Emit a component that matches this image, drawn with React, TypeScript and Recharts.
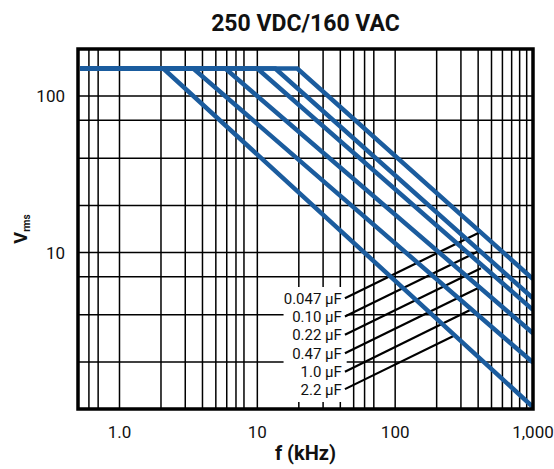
import { CartesianGrid, Line, LineChart, ReferenceArea, XAxis, YAxis } from "recharts";

// axes
const freqTicks = [1, 10, 100, 1000];
const freqTickLabels = ["1.0", "10", "100", "1,000"];
const voltTicks = [10, 100];
const freqGrid = [
  0.6, 0.7, 0.8, 0.9, 1, 2, 3, 4, 5, 6, 7, 8, 9, 10, 20, 30, 40, 50, 60, 70, 80, 90, 100, 200,
  300, 400, 500, 600, 700, 800, 900,
];
const voltGrid = [2, 3, 4, 5, 6, 7, 8, 9, 10, 20, 30, 40, 50, 60, 70, 80, 90, 100];

// curves, one per capacitance (top to bottom)
const capLabels = ["0.047 µF", "0.10 µF", "0.22 µF", "0.47 µF", "1.0 µF", "2.2 µF"];
const flatVolts = 150;
const startFreq = 0.52;
const endFreq = 1000;
const kneeFreqs = [19.5, 13.5, 10, 5.86, 3.43, 2.08];
const endVolts = [6.78, 5.1, 4.3, 3.05, 1.98, 1.03];

// leader lines from the labels to the curves
const leaderStartFreq = 43.2;
const leaderStartVolts = [5.11, 3.9, 2.98, 2.27, 1.73, 1.34];
const leaderEndFreqs = [412, 412, 419, 397, 350, 265];
const leaderEndVolts = [13.5, 10.3, 7.94, 5.92, 4.3, 2.93];

const BLUE = "#1b5c9e";
const FONT = "Roboto, 'Noto Sans', sans-serif";

const curves = capLabels.map((name, i) => ({
  name,
  data: [
    { f: startFreq, v: flatVolts },
    { f: kneeFreqs[i], v: flatVolts },
    { f: endFreq, v: endVolts[i] },
  ],
}));

const leaders = capLabels.map((name, i) => ({
  name,
  data: [
    { f: leaderStartFreq, v: leaderStartVolts[i] },
    { f: leaderEndFreqs[i], v: leaderEndVolts[i] },
  ],
}));

export default function App() {
  return (
    <div style={{ position: "absolute", left: 0, top: 0, width: 554, height: 469, background: "#fff" }}>
      <div
        style={{
          position: "absolute",
          left: 0,
          top: 12,
          width: 611,
          textAlign: "center",
          fontFamily: FONT,
          fontWeight: 700,
          fontSize: 23,
          lineHeight: "23px",
          color: "#111",
        }}
      >
        250 VDC/160 VAC
      </div>
      <LineChart width={554} height={469} margin={{ top: 49, right: 21, bottom: 0, left: 18 }}>
        <CartesianGrid
          stroke="#000"
          strokeWidth={1.5}
          horizontalValues={voltGrid}
          verticalValues={freqGrid}
        />
        <XAxis
          type="number"
          dataKey="f"
          scale="log"
          domain={[0.5, 1000]}
          allowDataOverflow
          ticks={freqTicks}
          tickFormatter={(v) => freqTickLabels[freqTicks.indexOf(v)] ?? ""}
          axisLine={false}
          tickLine={false}
          tickSize={0}
          tickMargin={17}
          height={60}
          tick={{ fontFamily: FONT, fontSize: 17, fill: "#111" }}
          label={{
            content: (props: any) => {
              const vb = props.viewBox;
              return (
                <text
                  x={vb.x + vb.width / 2}
                  y={vb.y + 51}
                  textAnchor="middle"
                  fontFamily={FONT}
                  fontWeight={700}
                  fontSize={20}
                  fill="#111"
                >
                  f (kHz)
                </text>
              );
            },
          }}
        />
        <YAxis
          type="number"
          dataKey="v"
          scale="log"
          domain={[1, 200]}
          allowDataOverflow
          ticks={voltTicks}
          axisLine={false}
          tickLine={false}
          tickSize={0}
          tickMargin={13}
          width={60}
          tick={{ fontFamily: FONT, fontSize: 17, fill: "#111" }}
          label={{
            content: () => (
              <text
                x={26.5}
                y={229}
                textAnchor="middle"
                transform="rotate(-90, 26.5, 229)"
                fontFamily={FONT}
                fontWeight={700}
                fill="#111"
              >
                <tspan fontSize={18}>V</tspan>
                <tspan fontSize={10} dy={3}>
                  rms
                </tspan>
              </text>
            ),
          }}
        />
        <ReferenceArea
          x1={15.5}
          x2={44.5}
          y1={1.11}
          y2={6.03}
          fill="#fff"
          fillOpacity={1}
          stroke="none"
        />
        {leaders.map((l) => (
          <Line
            key={"leader-" + l.name}
            data={l.data}
            dataKey="v"
            stroke="#000"
            strokeWidth={2.2}
            dot={false}
            activeDot={false}
            isAnimationActive={false}
            label={(p: any) =>
              p.index === 0 ? (
                <text
                  key={"lab-" + l.name}
                  x={p.x - 3}
                  y={p.y}
                  dy="0.36em"
                  textAnchor="end"
                  fontFamily={FONT}
                  fontSize={15}
                  fill="#111"
                >
                  {l.name}
                </text>
              ) : (
                <g key={"lab2-" + l.name} />
              )
            }
          />
        ))}
        {curves.map((c) => (
          <Line
            key={c.name}
            data={c.data}
            dataKey="v"
            stroke={BLUE}
            strokeWidth={4.5}
            dot={false}
            activeDot={false}
            isAnimationActive={false}
          />
        ))}
        <ReferenceArea
          x1={0.5}
          x2={1000}
          y1={1}
          y2={200}
          fill="none"
          stroke="#000"
          strokeWidth={3.5}
          zIndex={1500}
        />
      </LineChart>
    </div>
  );
}
